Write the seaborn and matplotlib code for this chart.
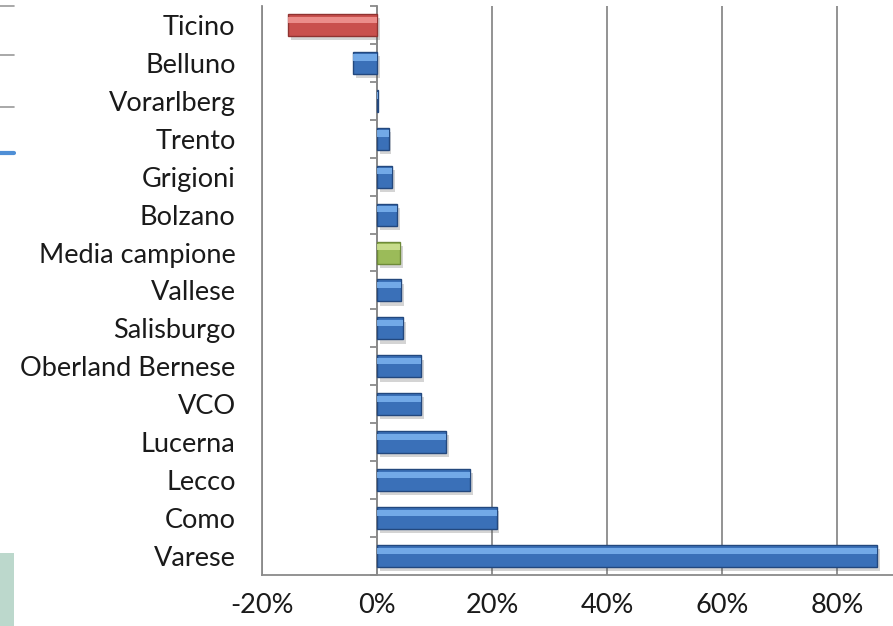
import matplotlib
matplotlib.use("Agg")
import matplotlib.pyplot as plt
import matplotlib.patches as mpatches
import matplotlib.patheffects as pe
from matplotlib.ticker import FuncFormatter
import pandas as pd
import seaborn as sns

# data (percent change)
regions = ["Ticino", "Belluno", "Vorarlberg", "Trento", "Grigioni", "Bolzano",
           "Media campione", "Vallese", "Salisburgo", "Oberland Bernese", "VCO",
           "Lucerna", "Lecco", "Como", "Varese"]
values = [-15.5, -4.2, 0.1, 2.0, 2.6, 3.5, 4.0, 4.2, 4.5, 7.6, 7.6, 12.0, 16.2, 20.8, 87.0]
groups = ["highlight", "region", "region", "region", "region", "region",
          "average", "region", "region", "region", "region",
          "region", "region", "region", "region"]
x_ticks = [-20, 0, 20, 40, 60, 80]

base_colors = {"region": "#3a70b8", "highlight": "#c9504d", "average": "#9bbb59"}
light_colors = {"region": "#7db4f0", "highlight": "#f29896", "average": "#cfe395"}
dark_colors = {"region": "#23487e", "highlight": "#8f3331", "average": "#6e8a39"}

sns.set_style("white")
plt.rcParams["font.family"] = ["Lato", "DejaVu Sans"]

df = pd.DataFrame({"region": regions, "value": values, "group": groups})

fig = plt.figure(figsize=(8.93, 6.26), dpi=100)
ax = fig.add_axes([0.2934, 0.0815, 0.7066, 0.909])

sns.barplot(data=df, y="region", x="value", hue="group", palette=base_colors,
            order=regions, orient="h", width=0.58, dodge=False, legend=False,
            saturation=1, ax=ax)

# fake the Excel bevel: darker edge, light band on the upper part
for patch in list(ax.patches):
    fc = matplotlib.colors.to_hex(patch.get_facecolor())
    grp = None
    for k, c in base_colors.items():
        if fc == c:
            grp = k
    if grp is None:
        continue
    patch.set_edgecolor(dark_colors[grp])
    patch.set_linewidth(1.0)
    patch.set_path_effects([pe.SimplePatchShadow(offset=(2, -3), alpha=0.25, shadow_rgbFace="#555555"),
                            pe.Normal()])
    x0, y0 = patch.get_x(), patch.get_y()
    w, h = patch.get_width(), patch.get_height()
    band = mpatches.Rectangle((x0, y0 + h * 0.12), w, h * 0.28,
                              facecolor=light_colors[grp], edgecolor="none",
                              alpha=0.85, zorder=patch.get_zorder() + 0.1)
    ax.add_patch(band)

ax.set_xlim(-20, 89.7)
ax.set_ylim(len(regions) - 0.5, -0.5)
ax.set_xticks(x_ticks)
ax.xaxis.set_major_formatter(FuncFormatter(lambda v, p: f"{v:.0f}%"))
ax.grid(axis="x", color="#8a8a8a", linewidth=1.3)
ax.set_axisbelow(True)
ax.set_xlabel("")
ax.set_ylabel("")

for s in ["top", "right"]:
    ax.spines[s].set_visible(False)
for s in ["left", "bottom"]:
    ax.spines[s].set_color("#8a8a8a")
    ax.spines[s].set_linewidth(1.3)

ax.tick_params(axis="y", length=0, pad=19, labelsize=19.5, labelcolor="#1a1a1a")
ax.tick_params(axis="x", length=6, width=1.3, color="#8a8a8a", pad=7,
               labelsize=19.5, labelcolor="#1a1a1a", direction="out")

# category axis sits at 0%, with tick marks between categories
loc0 = 20 / 109.7
sec = ax.secondary_yaxis(loc0)
sec.set_yticks([i - 0.5 for i in range(len(regions) + 1)])
sec.tick_params(length=5, width=1.3, color="#8a8a8a", labelleft=False, labelright=False)
sec.spines["left"].set_color("#8a8a8a")
sec.spines["left"].set_linewidth(1.3)

# bits of the neighbouring chart at the left edge of the screenshot
fig.patches.append(mpatches.Rectangle((0, 0), 14 / 893, 73 / 626, transform=fig.transFigure,
                                      facecolor="#bcd8cc", edgecolor="none"))
for yy in [6, 55, 107]:
    fig.add_artist(plt.Line2D([0, 14 / 893], [1 - yy / 626] * 2, color="#9a9a9a", linewidth=1.2))
fig.add_artist(plt.Line2D([0, 14 / 893], [1 - 153 / 626] * 2, color="#4f8fd6", linewidth=3))

fig.savefig("out.png", dpi=100)
